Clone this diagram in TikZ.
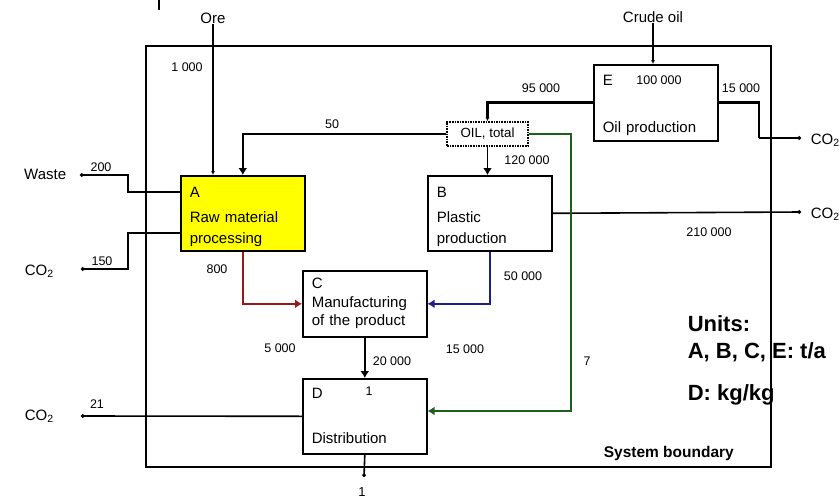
\documentclass[tikz,border=0pt]{standalone}
\usepackage{fontspec}
\setmainfont{Liberation Sans}
\usetikzlibrary{arrows.meta, positioning}
\definecolor{flowred}{RGB}{150,25,25}
\definecolor{flowblue}{RGB}{30,30,140}
\definecolor{flowgreen}{RGB}{30,95,30}
\definecolor{boxyellow}{RGB}{255,255,0}

\begin{document}
\begin{tikzpicture}[
  x=1pt, y=-1pt, line width=1.6pt,
  box/.style={draw, fill=white, align=left, anchor=north west, text width=106pt, inner xsep=9pt, minimum height=75pt, font=\fontsize{15}{21}\selectfont},
  lbl/.style={font=\fontsize{15}{17}\selectfont, inner sep=0pt},
  num/.style={font=\fontsize{12.5}{14}\selectfont, inner sep=0pt},
  units/.style={font=\bfseries\fontsize{22}{24}\selectfont, anchor=west, inner sep=0pt},
  arrow/.style={-{Latex[length=7pt, width=9pt]}},
  small arrow/.style={-{Latex[length=4pt, width=4pt]}},
  outflow/.style={-{Circle[length=3.5pt]}}
]
\useasboundingbox (0,0) rectangle (839,498);
\draw[line width=2.5pt] (159,0) -- (159,10);

% system boundary
\node[draw, anchor=north west, minimum width=625pt, minimum height=421pt, inner sep=0pt] (boundary) at (145,45) {};
\node[lbl, font=\bfseries\fontsize{15.5}{17}\selectfont, anchor=west] (sysname) at (603,453) {System boundary};

% processes
\node[box, fill=boxyellow] (A) at (180,175) {\rule{0pt}{17pt}A\\[4pt]Raw material\\processing};
\node[box] (B) at (427,175) {\rule{0pt}{17pt}B\\[4pt]Plastic\\production};
\node[box, minimum height=66pt, font=\fontsize{15}{18.5}\selectfont] (C) at (302,270) {C\\Manufacturing\\of the product};
\node[box] (D) at (302,378) {D\\[24pt]Distribution};
\node[box, minimum height=76pt] (E) at (593,64) {\rule{0pt}{16pt}E\\[26pt]Oil production};
\node[draw, densely dotted, fill=white, minimum width=81pt, minimum height=24pt, inner sep=0pt, font=\fontsize{13.3}{15}\selectfont] (oil) at (487.5,134) {OIL, total};

% sources and sinks
\node[lbl] (ore) at (213,18) {Ore};
\node[lbl] (crude) at (653,17) {Crude oil};
\node[lbl, anchor=east] (waste) at (67,174) {Waste};
\node[lbl, anchor=west] (co2a) at (24,271) {CO\textsubscript{2}};
\node[lbl, anchor=west] (co2d) at (24,416) {CO\textsubscript{2}};
\node[lbl, anchor=west] (co2e) at (810,140) {CO\textsubscript{2}};
\node[lbl, anchor=west] (co2b) at (810,214) {CO\textsubscript{2}};
\coordinate (wdot) at (80,175);
\coordinate (adot) at (81,269);
\coordinate (ddot) at (81,416);
\coordinate (edot) at (801,138);
\coordinate (bdot) at (801,212);
\coordinate (prod) at (364,477);
\coordinate (ebend) at (759,138);
\coordinate (gbend) at (571,411);

% flows
\draw[small arrow] (ore.south) -- (ore.south |- A.north);
\draw[small arrow] (crude.south) -- (crude.south |- E.north);
\draw[small arrow, line width=2.8pt] (E.west) -| (oil.north);
\draw[line width=2.8pt] (E.east) -| (ebend);
\draw[outflow] (ebend) -- (edot);
\draw[arrow] (oil.south) -- (oil.south |- B.north);
\draw[arrow] (oil.west) -| (A.north);
\draw[outflow] ([yshift=-17pt]A.north west) -| ++(-52,-17) -- (wdot);
\draw[outflow] ([yshift=-58pt]A.north west) -| ++(-52,36) -- (adot);
\draw[arrow, flowred] (A.south) |- (C.west);
\draw[arrow, flowblue] (B.south) |- (C.east);
\draw[outflow] (B.east) -- (bdot);
\draw[arrow, flowgreen] (oil.east) -| (gbend) -- (gbend -| D.east);
\draw[arrow] (C.south) -- (D.north);
\draw[outflow] (D.west) -- (ddot);
\draw[outflow] (D.south) -- (prod);

% amounts
\node[num] (n1) at (187,67) {1 000};
\node[num] (n2) at (332,124) {50};
\node[num] (n3) at (541,88) {95 000};
\node[num] (n4) at (659,80) {100 000};
\node[num] (n5) at (741,88) {15 000};
\node[num] (n6) at (527,160) {120 000};
\node[num] (n7) at (709,232) {210 000};
\node[num] (n8) at (101,167) {200};
\node[num] (n9) at (102,261) {150};
\node[num] (n10) at (217,269) {800};
\node[num] (n11) at (523,276) {50 000};
\node[num] (n12) at (280,348) {5 000};
\node[num] (n13) at (465,349) {15 000};
\node[num] (n14) at (392,361) {20 000};
\node[num] (n15) at (369,391) {1};
\node[num] (n16) at (587,361) {7};
\node[num] (n17) at (97,404) {21};
\node[lbl, font=\fontsize{13}{15}\selectfont] (n18) at (362,492) {1};

% units
\node[units] (u1) at (687,324) {Units:};
\node[units] (u2) at (687,352) {A, B, C, E: t/a};
\node[units] (u3) at (687,395) {D: kg/kg};
\end{tikzpicture}
\end{document}
